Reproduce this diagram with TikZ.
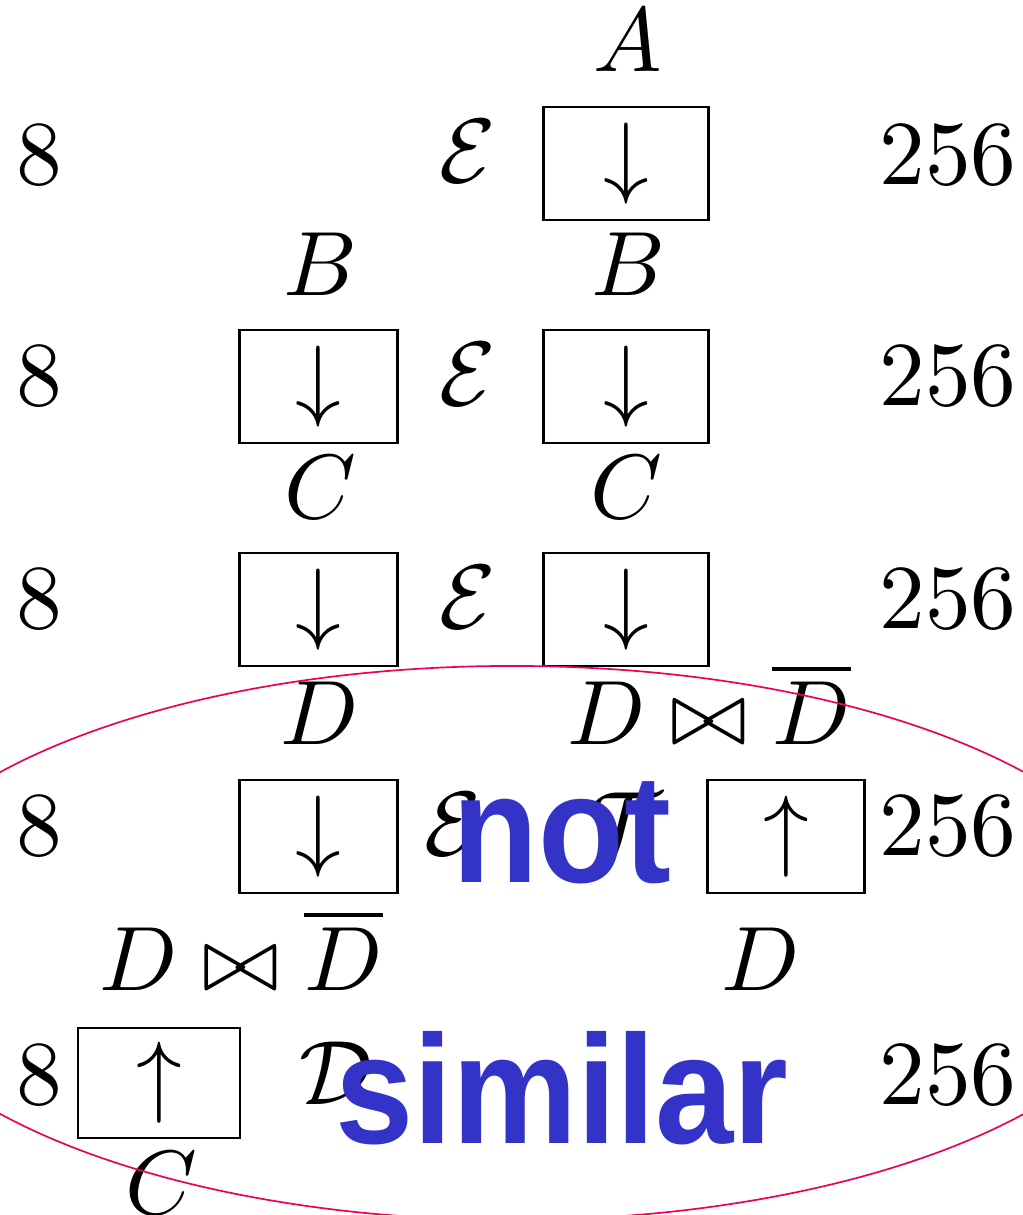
\documentclass[tikz,border=0pt]{standalone}
\usepackage{fontspec}
\newfontfamily\arialfont{Liberation Sans}
\definecolor{ellred}{RGB}{235,0,90}
\definecolor{stampblue}{RGB}{51,51,200}
\begin{document}
\begin{tikzpicture}[x=0.025cm,y=-0.025cm,
  lbl/.style={anchor=base, scale=6.5, inner sep=0pt},
  boxl/.style={draw, line width=2.1pt, scale=6.5, inner sep=0pt, minimum width=0.604cm, minimum height=0.4346cm},
  boxr/.style={boxl, minimum width=0.631cm},
  stamp/.style={anchor=base, inner sep=0pt, text=stampblue, font=\arialfont\bfseries, xscale=10, yscale=11}]
\useasboundingbox (0,0) rectangle (1023,1215);
% left counts
\node[lbl] (n1) at (39,185) {8};
\node[lbl] (n2) at (39,405) {8};
\node[lbl] (n3) at (39,628) {8};
\node[lbl] (n4) at (39,855) {8};
\node[lbl] (n5) at (39,1104) {8};
% right counts
\node[lbl] (m1) at (948,185) {256};
\node[lbl] (m2) at (948,405) {256};
\node[lbl] (m3) at (948,628) {256};
\node[lbl] (m4) at (948,855) {256};
\node[lbl] (m5) at (948,1104) {256};
% calligraphic symbols
\node[lbl] (e1) at (468,183) {$\mathcal{E}$};
\node[lbl] (e2) at (468,405) {$\mathcal{E}$};
\node[lbl] (e3) at (468,628) {$\mathcal{E}$};
\node[lbl] (e4) at (453,855) {$\mathcal{E}$};
\node[lbl] (t4) at (625,855) {$\mathcal{T}$};
\node[lbl] (d5) at (336,1104) {$\mathcal{D}$};
% labels
\node[lbl] (la) at (628,72) {$A$};
\node[lbl] (lb1) at (320,295) {$B$};
\node[lbl] (lb2) at (628,295) {$B$};
\node[lbl] (lc1) at (320,518) {$C$};
\node[lbl] (lc2) at (626,518) {$C$};
\node[lbl] (ld1) at (320,744) {$D$};
\node[lbl] (ld2) at (709,744) {$D \bowtie \overline{D}$};
\node[lbl] (ld3) at (241,990) {$D \bowtie \overline{D}$};
\node[lbl] (ld4) at (761,990) {$D$};
\node[lbl] (lc3) at (161,1214) {$C$};
% boxes
\node[boxr] (r1) at (626,163.5) {$\downarrow$};
\node[boxl] (l2) at (318.5,386.5) {$\downarrow$};
\node[boxr] (r2) at (626,386.5) {$\downarrow$};
\node[boxl] (l3) at (318.5,609.5) {$\downarrow$};
\node[boxr] (r3) at (626,609.5) {$\downarrow$};
\node[boxl] (l4) at (318.5,836.5) {$\downarrow$};
\node[boxl] (r4) at (786,836.5) {$\uparrow$};
\node[boxl, minimum width=0.623cm, minimum height=0.423cm] (l5) at (159,1083) {$\uparrow$};
% ellipse
\draw[ellred, line width=1.2pt] (512,943) ellipse [x radius=16.25cm, y radius=6.925cm];
% stamp
\node[stamp] (not) at (562,882) {not};
\node[stamp] (sim) at (562,1143) {similar};
\end{tikzpicture}
\end{document}
